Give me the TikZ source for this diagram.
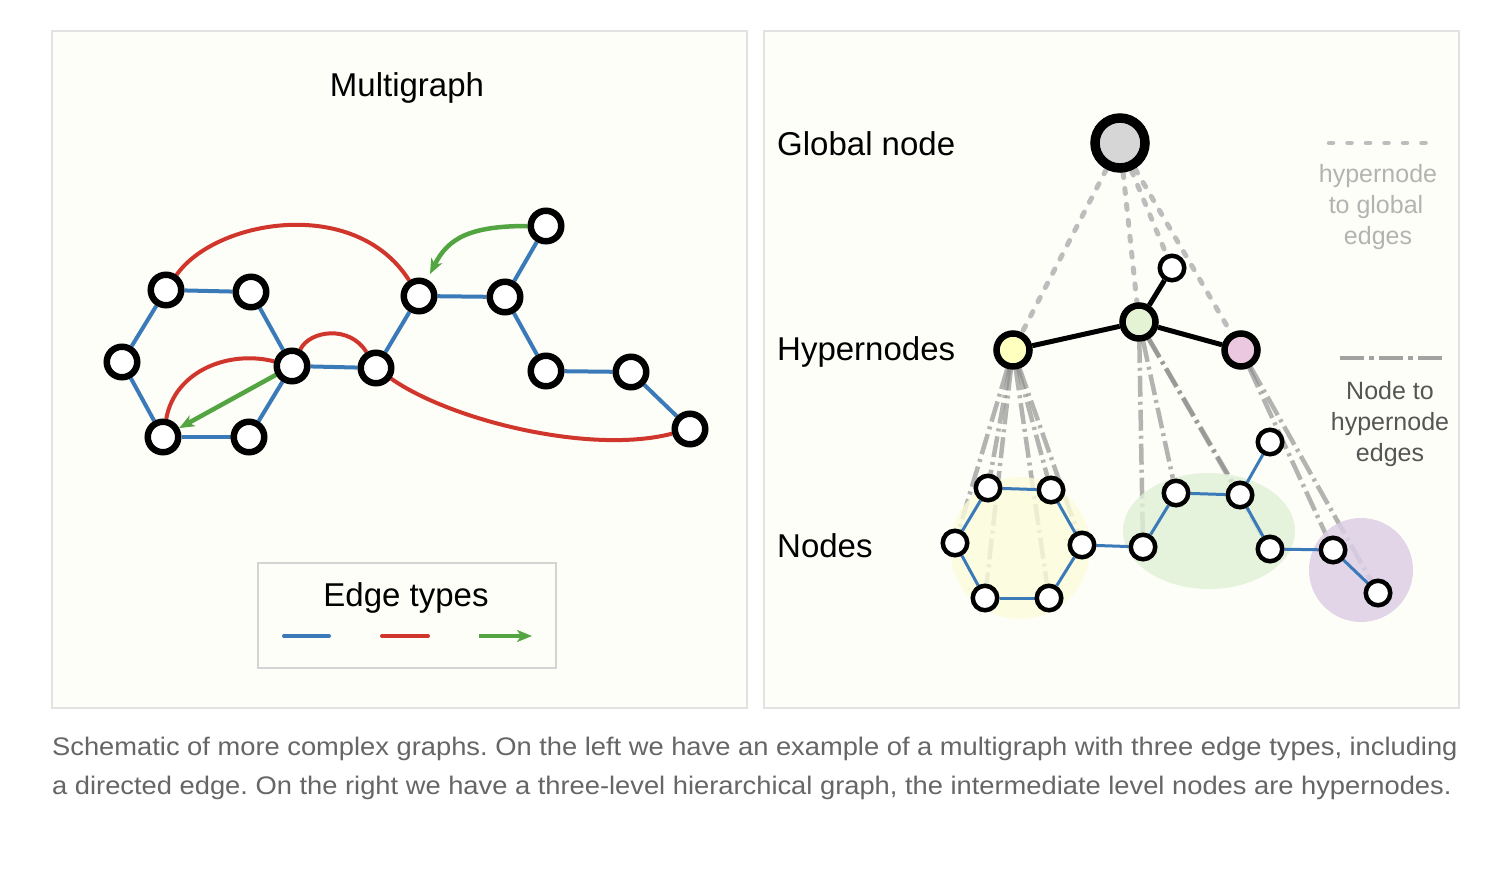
\documentclass[tikz,border=0pt]{standalone}
\usepackage{fontspec}
\setmainfont{Liberation Sans}
\newfontfamily\capfont[FakeStretch=1.075]{Liberation Sans}
\usetikzlibrary{arrows.meta}
\pgfdeclarelayer{panel}
\pgfdeclarelayer{dash}
\pgfdeclarelayer{blob}
\pgfdeclarelayer{edge}
\pgfsetlayers{panel,dash,blob,edge,main}
\definecolor{cream}{HTML}{FEFEF8}
\definecolor{panelline}{HTML}{E2E2E2}
\definecolor{legline}{HTML}{D4D4D4}
\definecolor{eblue}{HTML}{3A7AB8}
\definecolor{ered}{HTML}{D0362C}
\definecolor{egreen}{HTML}{52A540}
\definecolor{gdash}{HTML}{BDBDBD}
\definecolor{hdash}{HTML}{8C8C8C}
\definecolor{yhyper}{HTML}{FFFFBF}
\definecolor{ghyper}{HTML}{E4F3D3}
\definecolor{phyper}{HTML}{ECC8E0}
\definecolor{gnodecol}{HTML}{D6D6D6}
\definecolor{yblob}{HTML}{FCFCDA}
\definecolor{gblob}{HTML}{DFEFD6}
\definecolor{pblob}{HTML}{DCCEE5}
\definecolor{lightlbl}{HTML}{B3B3B3}
\definecolor{darklbl}{HTML}{555555}
\definecolor{capcol}{HTML}{666666}
\tikzset{
  lnode/.style={circle,draw=black,line width=6.5pt,fill=white,minimum size=30.5pt,inner sep=0pt},
  snode/.style={circle,draw=black,line width=4.5pt,fill=white,minimum size=24.5pt,inner sep=0pt},
  hnode/.style={circle,draw=black,line width=6.5pt,minimum size=33pt,inner sep=0pt},
  globst/.style={circle,draw=black,line width=9.5pt,fill=gnodecol,minimum size=50pt,inner sep=0pt},
  bedge/.style={eblue,line width=4pt},
  sbedge/.style={eblue,line width=3pt},
  redge/.style={ered,line width=4pt},
  gedge/.style={egreen,line width=4.5pt,-{Stealth[length=15pt,width=12pt,inset=4pt]}},
  hedge/.style={black,line width=5pt},
  gdashst/.style={gdash,line width=5pt,line cap=round,dash pattern=on 5pt off 11pt},
  hdashst/.style={hdash,draw opacity=0.65,line width=4.5pt,dash pattern=on 21pt off 5pt on 3pt off 5pt},
  bigtxt/.style={font=\fontsize{33}{40}\selectfont,inner sep=0pt,anchor=base west},
  legtxt/.style={font=\fontsize{25}{31}\selectfont,inner sep=0pt,anchor=base},
  captxt/.style={font=\capfont\fontsize{25.4}{30}\selectfont\frenchspacing,inner sep=0pt,anchor=base west,text=capcol},
}
\begin{document}
\begin{tikzpicture}[x=1pt,y=-1pt]
\useasboundingbox (0,0) rectangle (1486,870);
\begin{pgfonlayer}{panel}
\fill[white] (0,0) rectangle (1486,870);
\draw[panelline,fill=cream,line width=1.5pt] (52,31) rectangle (747,708);
\draw[panelline,fill=cream,line width=1.5pt] (764,31) rectangle (1459,708);
\draw[legline,line width=2.5pt] (258,563) rectangle (556,668);
\end{pgfonlayer}

% ---------- left: multigraph ----------
\node[bigtxt,anchor=base] (mtitle) at (407,96) {Multigraph};
\node[lnode] (A) at (166,290) {};
\node[lnode] (B) at (251,292) {};
\node[lnode] (C) at (122,362) {};
\node[lnode] (D) at (292,366) {};
\node[lnode] (E) at (163,437) {};
\node[lnode] (F) at (249,437) {};
\node[lnode] (G) at (376,368) {};
\node[lnode] (H) at (419,296) {};
\node[lnode] (I) at (505,297) {};
\node[lnode] (J) at (546,226) {};
\node[lnode] (K) at (546,371) {};
\node[lnode] (L) at (631,372) {};
\node[lnode] (M) at (690,429) {};

\node[bigtxt,anchor=base] (legtitle) at (406,606) {Edge types};
\coordinate (lb1) at (284,636); \coordinate (lb2) at (329,636);
\coordinate (lr1) at (382,636); \coordinate (lr2) at (428,636);
\coordinate (lg1) at (479,636); \coordinate (lg2) at (532,636);

\begin{pgfonlayer}{edge}
\draw[bedge] (A) -- (B);
\draw[bedge] (A) -- (C);
\draw[bedge] (B) -- (D);
\draw[bedge] (C) -- (E);
\draw[bedge] (D) -- (F);
\draw[bedge] (E) -- (F);
\draw[bedge] (D) -- (G);
\draw[bedge] (G) -- (H);
\draw[bedge] (H) -- (I);
\draw[bedge] (I) -- (J);
\draw[bedge] (I) -- (K);
\draw[bedge] (K) -- (L);
\draw[bedge] (L) -- (M);
\draw[redge] (A) .. controls (215,220) and (355,195) .. (H);
\draw[redge] (E) .. controls (175,370) and (230,350) .. (D);
\draw[redge] (D) .. controls (310,330) and (350,325) .. (G);
\draw[redge] (G) .. controls (450,420) and (590,455) .. (M);
\draw[gedge] (D) -- (E);
\draw[gedge,shorten >=6pt] (J) .. controls (470,226) and (448,238) .. (H);
\draw[bedge,line cap=round] (lb1) -- (lb2);
\draw[redge,line cap=round] (lr1) -- (lr2);
\draw[gedge,line width=4pt] (lg1) -- (lg2);
\end{pgfonlayer}

% ---------- right: hierarchical graph ----------
\node[bigtxt] (tglob) at (777,155) {Global node};
\node[bigtxt] (thyp) at (777,360) {Hypernodes};
\node[bigtxt] (tnod) at (777,557) {Nodes};

\node[globst] (glob) at (1120,143) {};
\node[hnode,fill=yhyper] (hy) at (1013,350) {};
\node[hnode,fill=ghyper] (hg) at (1139,322) {};
\node[hnode,fill=phyper] (hp) at (1241,350) {};
\node[snode] (hs) at (1172,268) {};

\node[snode] (n1) at (988,488) {};
\node[snode] (n2) at (1051,490) {};
\node[snode] (n3) at (955,543) {};
\node[snode] (n4) at (1082,545) {};
\node[snode] (n5) at (985,598) {};
\node[snode] (n6) at (1049,598) {};
\node[snode] (n7) at (1143,547) {};
\node[snode] (n8) at (1176,493) {};
\node[snode] (n9) at (1240,495) {};
\node[snode] (n10) at (1270,442) {};
\node[snode] (n11) at (1270,549) {};
\node[snode] (n12) at (1333,550) {};
\node[snode] (n13) at (1378,593) {};

% legend texts
\coordinate (ld1) at (1329,143); \coordinate (ld2) at (1430,143);
\node[legtxt,text=lightlbl] (lt1) at (1378,182) {hypernode};
\node[legtxt,text=lightlbl] (lt2) at (1376,213) {to global};
\node[legtxt,text=lightlbl] (lt3) at (1378,244) {edges};
\coordinate (lh1) at (1340,358); \coordinate (lh2) at (1442,358);
\node[legtxt,text=darklbl] (lu1) at (1390,399) {Node to};
\node[legtxt,text=darklbl] (lu2) at (1390,430) {hypernode};
\node[legtxt,text=darklbl] (lu3) at (1390,461) {edges};

\begin{pgfonlayer}{dash}
\draw[gdashst] (glob) -- (hy);
\draw[gdashst] (glob) -- (hg);
\draw[gdashst] (glob) -- (hs);
\draw[gdashst] (glob) -- (hp);
\draw[gdashst,line width=4.5pt,dash pattern=on 4pt off 14.5pt] (ld1) -- (ld2);
\foreach \n in {n1,n2,n3,n4,n5,n6} \draw[hdashst] (hy) -- (\n);
\foreach \n in {n7,n8,n9,n11} \draw[hdashst] (hg) -- (\n);
\foreach \n in {n12,n13} \draw[hdashst] (hp) -- (\n);
\draw[hdashst,draw opacity=0.8,line width=4pt,dash pattern=on 24pt off 5pt on 5pt off 5pt] (lh1) -- (lh2);
\end{pgfonlayer}

\begin{pgfonlayer}{blob}
\fill[yblob,opacity=0.8] (1020,548) ellipse [x radius=70pt,y radius=71pt];
\fill[gblob,opacity=0.8] (1209,531) ellipse [x radius=86pt,y radius=58pt];
\fill[pblob,opacity=0.85] (1361,570) circle [radius=52pt];
\end{pgfonlayer}

\begin{pgfonlayer}{edge}
\draw[hedge] (hy) -- (hg);
\draw[hedge] (hg) -- (hp);
\draw[hedge] (hg) -- (hs);
\draw[sbedge] (n1) -- (n2);
\draw[sbedge] (n1) -- (n3);
\draw[sbedge] (n2) -- (n4);
\draw[sbedge] (n3) -- (n5);
\draw[sbedge] (n4) -- (n6);
\draw[sbedge] (n5) -- (n6);
\draw[sbedge] (n4) -- (n7);
\draw[sbedge] (n7) -- (n8);
\draw[sbedge] (n8) -- (n9);
\draw[sbedge] (n9) -- (n10);
\draw[sbedge] (n9) -- (n11);
\draw[sbedge] (n11) -- (n12);
\draw[sbedge] (n12) -- (n13);
\end{pgfonlayer}

% caption
\node[captxt] (cap1) at (52,755) {Schematic of more complex graphs. On the left we have an example of a multigraph with three edge types, including};
\node[captxt] (cap2) at (52,794) {a directed edge. On the right we have a three-level hierarchical graph, the intermediate level nodes are hypernodes.};
\end{tikzpicture}
\end{document}
